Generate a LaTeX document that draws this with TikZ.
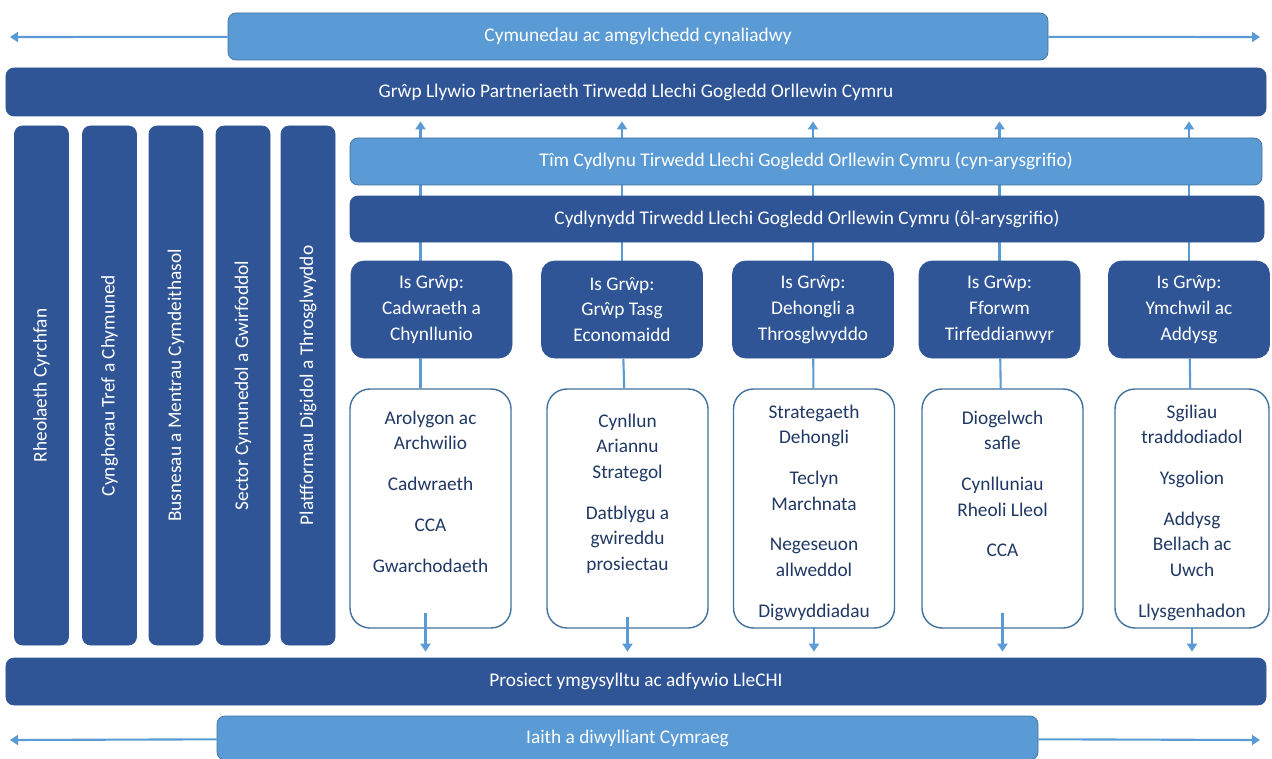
\documentclass[tikz,border=0pt]{standalone}
\usepackage{fontspec}
\setmainfont{Carlito}
\usetikzlibrary{positioning, arrows.meta, backgrounds}
\definecolor{darkbox}{HTML}{2F5597}
\definecolor{lightbox}{HTML}{5B9BD5}
\definecolor{boxedge}{HTML}{41719C}
\definecolor{navytext}{HTML}{203864}

\begin{document}
\begin{tikzpicture}[
    % GLOBAL CFG
    font=\fontsize{11}{14.6}\selectfont,
    >={Triangle[width=2mm,length=1.6mm]},
    % Styles
    darkbar/.style={% For dark blue bars
        rectangle,
        rounded corners=1.6mm,
        draw=darkbox,
        fill=darkbox,
        text=white,
    },
    lightbar/.style={% For light blue bars
        rectangle,
        rounded corners=1.6mm,
        draw=boxedge,
        fill=lightbox,
        text=white,
    },
    sidebar/.style={% For the upright bars on the left
        darkbar,
        rotate=90,
        minimum width=10.38cm,
        minimum height=1.08cm,
        inner sep=0pt,
    },
    subgroup/.style={% For the sub group boxes
        darkbar,
        rounded corners=2.6mm,
        minimum width=3.22cm,
        minimum height=1.94cm,
        align=center,
    },
    itembox/.style={% For the white boxes
        rectangle,
        rounded corners=4mm,
        draw=boxedge,
        line width=.8pt,
        fill=white,
        minimum width=3.22cm,
        minimum height=4.78cm,
    },
    itemtext/.style={% For the text in the white boxes
        text=navytext,
        align=center,
        inner sep=0pt,
    },
    link/.style={% Light blue connectors
        draw=lightbox,
        line width=1.2pt,
    },
    ]

    \useasboundingbox (0,0) rectangle (25.44,-15.16);

    % Draw top and bottom bars
    \node [lightbar, minimum width=16.4cm, minimum height=.94cm] (cymunedau) at (12.76,-.73) {Cymunedau ac amgylchedd cynaliadwy};
    \node [darkbar, minimum width=25.2cm, minimum height=.96cm] (grwp) at (12.72,-1.84) {Grŵp Llywio Partneriaeth Tirwedd Llechi Gogledd Orllewin Cymru};
    \node [darkbar, minimum width=25.2cm, minimum height=.94cm] (prosiect) at (12.72,-13.63) {Prosiect ymgysylltu ac adfywio LleCHI};
    \node [lightbar, minimum width=16.42cm, minimum height=.88cm] (iaith) at (12.55,-14.76) {Iaith a diwylliant Cymraeg};

    % Draw bars named tim and cydlynydd
    \node [lightbar, minimum width=18.24cm, minimum height=.94cm] (tim) at (16.12,-3.23) {Tîm Cydlynu Tirwedd Llechi Gogledd Orllewin Cymru (cyn-arysgrifio)};
    \node [darkbar, minimum width=18.28cm, minimum height=.92cm] (cydlynydd) at (16.14,-4.38) {Cydlynydd Tirwedd Llechi Gogledd Orllewin Cymru (ôl-arysgrifio)};

    % Draw side bars named side#
    \node [sidebar] (side1) at (.83,-7.71) {Rheolaeth Cyrchfan};
    \node [sidebar] (side2) at (2.19,-7.71) {Cynghorau Tref a Chymuned};
    \node [sidebar] (side3) at (3.52,-7.71) {Busnesau a Mentrau Cymdeithasol};
    \node [sidebar] (side4) at (4.86,-7.71) {Sector Cymunedol a Gwirfoddol};
    \node [sidebar] (side5) at (6.16,-7.71) {Platfformau Digidol a Throsglwyddo};

    % Draw sub groups named sub#
    \node [subgroup] (sub1) at (8.63,-6.19) {Is Grŵp:\\ Cadwraeth a\\ Chynllunio};
    \node [subgroup] (sub2) at (12.44,-6.19) {Is Grŵp:\\ Grŵp Tasg\\ Economaidd};
    \node [subgroup] (sub3) at (16.26,-6.19) {Is Grŵp:\\ Dehongli a\\ Throsglwyddo};
    \node [subgroup] (sub4) at (19.99,-6.19) {Is Grŵp:\\ Fforwm\\ Tirfeddianwyr};
    \node [subgroup] (sub5) at (23.78,-6.19) {Is Grŵp:\\ Ymchwil ac\\ Addysg};

    % Draw white boxes named box#
    \node [itembox] (box1) at (8.61,-10.17) {};
    \node [itembox] (box2) at (12.55,-10.17) {};
    \node [itembox] (box3) at (16.28,-10.17) {};
    \node [itembox] (box4) at (20.05,-10.17) {};
    \node [itembox, minimum width=3.08cm] (box5) at (23.84,-10.17) {};

    % Text in the white boxes
    \node [itemtext, below=.44cm of box1.north] (items1) {Arolygon ac\\ Archwilio\\[8.6pt] Cadwraeth\\[8.6pt] CCA\\[8.6pt] Gwarchodaeth};
    \node [itemtext, below=.5cm of box2.north] (items2) {Cynllun\\ Ariannu\\ Strategol\\[8.6pt] Datblygu a\\ gwireddu\\ prosiectau};
    \node [itemtext, below=.32cm of box3.north] (items3) {Strategaeth\\ Dehongli\\[8.6pt] Teclyn\\ Marchnata\\[8.6pt] Negeseuon\\ allweddol\\[8.6pt] Digwyddiadau};
    \node [itemtext, below=.44cm of box4.north] (items4) {Diogelwch\\ safle\\[8.6pt] Cynlluniau\\ Rheoli Lleol\\[8.6pt] CCA};
    \node [itemtext, below=.32cm of box5.north] (items5) {Sgiliau\\ traddodiadol\\[8.6pt] Ysgolion\\[8.6pt] Addysg\\ Bellach ac\\ Uwch\\[8.6pt] Llysgenhadon};

    % Free ends of the side arrows
    \coordinate (topL) at (.2,-.74);
    \coordinate (topR) at (25.2,-.74);
    \coordinate (botL) at (.2,-14.8);
    \coordinate (botR) at (25.2,-14.8);

    % Connect all
    \draw [link, ->] (cymunedau) -- (topL);
    \draw [link, ->] (cymunedau) -- (topR);
    \draw [link, ->] (iaith) -- (botL);
    \draw [link, ->] (iaith) -- (botR);

    % Up arrows run behind the bars
    \begin{scope}[on background layer]
    \draw [link, ->] ([xshift=-.22cm]sub1.north) -- ([xshift=-.22cm, yshift=-.1cm]sub1.north |- grwp.south);
    \draw [link, ->] (sub2.north) -- ([yshift=-.1cm]sub2.north |- grwp.south);
    \draw [link, ->] (sub3.north) -- ([yshift=-.1cm]sub3.north |- grwp.south);
    \draw [link, ->] (sub4.north) -- ([yshift=-.1cm]sub4.north |- grwp.south);
    \draw [link, ->] (sub5.north) -- ([yshift=-.1cm]sub5.north |- grwp.south);
    \end{scope}

    % Sub groups to white boxes
    \draw [link] ([xshift=-.22cm]sub1.south) -- ([xshift=-.22cm]sub1.south |- box1.north);
    \draw [link] (sub2) -- (box2);
    \draw [link] (sub3) -- (box3);
    \draw [link] (sub4) -- (box4);
    \draw [link] (sub5) -- (box5);

    % Down arrows
    \draw [link, ->] ([xshift=-.1cm, yshift=.32cm]box1.south) -- ([xshift=-.1cm, yshift=.12cm]box1.south |- prosiect.north);
    \draw [link, ->] ([yshift=.24cm]box2.south) -- ([yshift=.12cm]box2.south |- prosiect.north);
    \draw [link, ->] ([yshift=.04cm]box3.south) -- ([yshift=.12cm]box3.south |- prosiect.north);
    \draw [link, ->] ([yshift=.32cm]box4.south) -- ([yshift=.12cm]box4.south |- prosiect.north);
    \draw [link, ->] ([yshift=.04cm]box5.south) -- ([yshift=.12cm]box5.south |- prosiect.north);

\end{tikzpicture}
\end{document}
